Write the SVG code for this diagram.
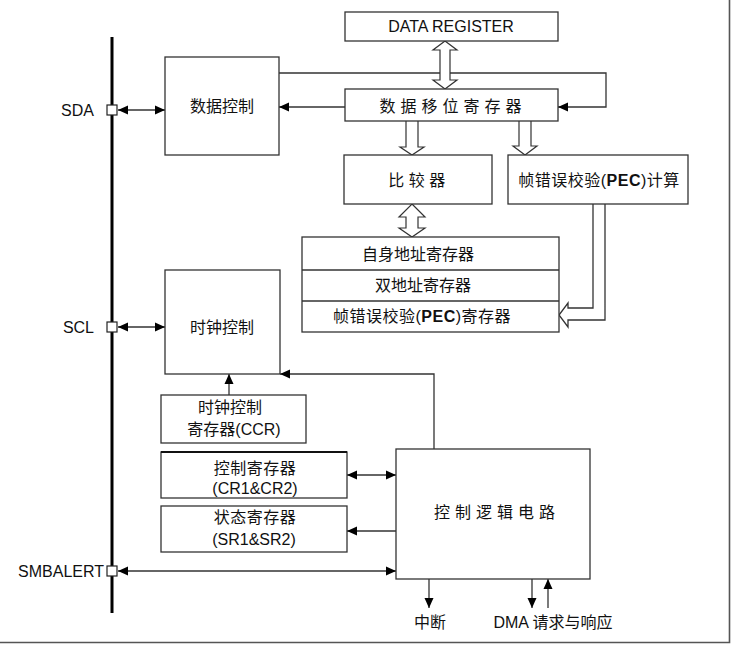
<svg xmlns="http://www.w3.org/2000/svg" width="732" height="645" viewBox="0 0 732 645">
<defs>
<marker id="ah" viewBox="0 0 10 10" refX="10" refY="5" markerWidth="10" markerHeight="10" markerUnits="userSpaceOnUse" orient="auto-start-reverse">
<path d="M0,0.5 L10,5 L0,9.5 Z" fill="#000"/>
</marker>
<style>
.box{fill:#fff;stroke:#333;stroke-width:1.3}
.ln{fill:none;stroke:#333;stroke-width:1.3}
.hol{fill:#fff;stroke:#333;stroke-width:1.2}
.t{font-family:"Liberation Sans","Noto Sans CJK SC",sans-serif;font-size:16px;fill:#111;text-anchor:middle}
.pin{font-family:"Liberation Sans",sans-serif;font-size:16px;fill:#111;text-anchor:end}
.term{fill:#fff;stroke:#222;stroke-width:1.2}
</style>
</defs>
<rect width="732" height="645" fill="#fff"/>
<path d="M729.5,0 L729.5,642.5 L0,642.5" fill="none" stroke="#555" stroke-width="1.6"/>
<line x1="112" y1="37" x2="112" y2="613" stroke="#000" stroke-width="3"/>

<g id="connectors">
<path class="ln" d="M279,73 L606,73 L606,107 L558,107" marker-end="url(#ah)"/>
<path class="ln" d="M345,107 L279,107" marker-end="url(#ah)"/>
<path class="ln" d="M118,110 L165,110" marker-start="url(#ah)" marker-end="url(#ah)"/>
<path class="ln" d="M118,327 L165,327" marker-start="url(#ah)" marker-end="url(#ah)"/>
<path class="ln" d="M434,449 L434,374 L280,374" marker-end="url(#ah)"/>
<path class="ln" d="M229,395 L229,374" marker-end="url(#ah)"/>
<path class="ln" d="M347,475 L396,475" marker-start="url(#ah)" marker-end="url(#ah)"/>
<path class="ln" d="M399,531 L347,531" marker-end="url(#ah)"/>
<path class="ln" d="M118,571 L396,571" marker-start="url(#ah)" marker-end="url(#ah)"/>
<path class="ln" d="M429,579 L429,608" marker-end="url(#ah)"/>
<path class="ln" d="M532,579 L532,608" marker-end="url(#ah)"/>
<path class="ln" d="M548,608 L548,579" marker-end="url(#ah)"/>
<path class="hol" d="M445,41 L457,50 L450,50 L450,80 L457,80 L445,89 L433,80 L440,80 L440,50 L433,50 Z"/>
<path class="hol" d="M406,121 L406,147 L400,147 L412,155 L424,147 L418,147 L418,121"/>
<path class="hol" d="M519,121 L519,146 L513,146 L525,155 L537,146 L531,146 L531,121"/>
<path class="hol" d="M412,204 L425,217 L418,217 L418,228 L425,228 L412,237 L399,228 L406,228 L406,217 L399,217 Z"/>
<path class="ln" d="M593,204 L593,308 L568,308 L568,303 L559,315 L568,327 L568,320 L605,320 L605,204"/>
</g>

<g id="sda"><rect class="term" x="107" y="105" width="10" height="10"/><text class="pin" x="94" y="115.5">SDA</text></g>
<g id="scl"><rect class="term" x="107" y="322" width="10" height="10"/><text class="pin" x="94" y="332.5">SCL</text></g>
<g id="smbalert"><rect class="term" x="107" y="566" width="10" height="10"/><text class="pin" x="104" y="576.5">SMBALERT</text></g>

<g id="data-register"><rect class="box" x="345" y="12" width="213" height="29"/><text class="t" x="451" y="32" font-size="16.5">DATA REGISTER</text></g>
<g id="shift-register"><rect class="box" x="345" y="89" width="213" height="32"/><text class="t" x="453" y="112" letter-spacing="5">数据移位寄存器</text></g>
<g id="data-control"><rect class="box" x="165" y="57" width="114" height="98"/><text class="t" x="222" y="112">数据控制</text></g>
<g id="comparator"><rect class="box" x="344" y="155" width="148" height="49"/><text class="t" x="419" y="186" letter-spacing="4.5">比较器</text></g>
<g id="pec-calc"><rect class="box" x="508" y="155" width="180" height="49"/><text class="t" x="599" y="186" letter-spacing="0.5">帧错误校验(<tspan font-weight="bold">PEC</tspan>)计算</text></g>
<g id="address-registers">
<rect class="box" x="302" y="237" width="257" height="95"/>
<line class="ln" x1="302" y1="270" x2="559" y2="270"/>
<line class="ln" x1="302" y1="301" x2="559" y2="301" stroke-width="1.8"/>
<text class="t" x="418" y="260">自身地址寄存器</text>
<text class="t" x="423" y="291">双地址寄存器</text>
<text class="t" x="422" y="322" letter-spacing="0.5">帧错误校验(<tspan font-weight="bold">PEC</tspan>)寄存器</text>
</g>
<g id="clock-control"><rect class="box" x="165" y="270" width="115" height="104"/><text class="t" x="222" y="333">时钟控制</text></g>
<g id="ccr"><rect class="box" x="161" y="395" width="145" height="48"/><text class="t" x="230" y="413">时钟控制</text><text class="t" x="234" y="435">寄存器(CCR)</text></g>
<g id="cr"><rect class="box" x="161" y="452" width="186" height="46"/><line x1="161" y1="452" x2="347" y2="452" stroke="#111" stroke-width="2"/><text class="t" x="255" y="474" letter-spacing="0.5">控制寄存器</text><text class="t" x="255" y="494">(CR1&amp;CR2)</text></g>
<g id="sr"><rect class="box" x="161" y="506" width="186" height="46"/><text class="t" x="255" y="523" letter-spacing="0.5">状态寄存器</text><text class="t" x="254" y="545">(SR1&amp;SR2)</text></g>
<g id="control-logic"><rect class="box" x="396" y="449" width="194" height="130"/><text class="t" x="497" y="518" letter-spacing="5">控制逻辑电路</text></g>
<g id="interrupt"><text class="t" x="430" y="628">中断</text></g>
<g id="dma"><text class="t" x="553" y="628">DMA 请求与响应</text></g>
</svg>
